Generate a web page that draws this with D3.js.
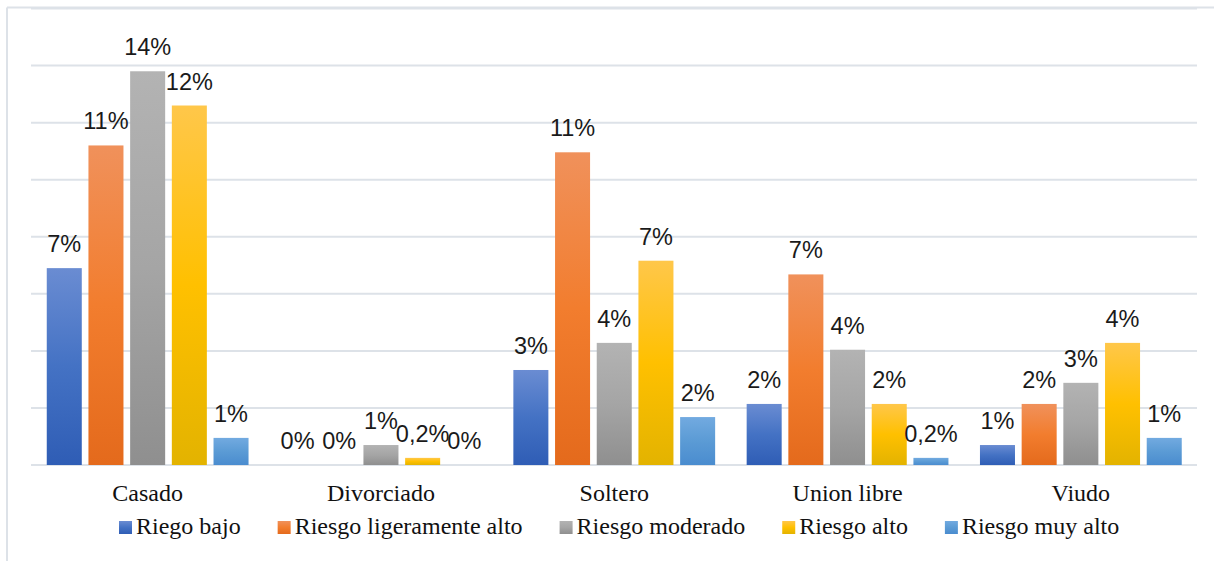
<!DOCTYPE html>
<html>
<head>
<meta charset="utf-8">
<script src="https://cdn.jsdelivr.net/npm/d3@7"></script>
<style>
  body { margin: 0; background: #fff; }
  svg { display: block; }
  .serif { font-family: "Liberation Serif", "Times New Roman", "DejaVu Serif", serif; }
  .sans { font-family: "Liberation Sans", Arial, Helvetica, sans-serif; }
</style>
</head>
<body>
<div id="chart"></div>
<script>
// categories and series
const categories = ["Casado", "Divorciado", "Soltero", "Union libre", "Viudo"];
const seriesNames = ["Riego bajo", "Riesgo ligeramente alto", "Riesgo moderado", "Riesgo alto", "Riesgo muy alto"];

// values in % (one array per series, in category order)
const riegoBajo      = [6.9, 0, 3.33, 2.14, 0.7];
const riesgoLigAlto  = [11.2, 0, 10.96, 6.68, 2.14];
const riesgoModerado = [13.8, 0.7, 4.28, 4.04, 2.88];
const riesgoAlto     = [12.6, 0.25, 7.16, 2.14, 4.28];
const riesgoMuyAlto  = [0.95, 0, 1.68, 0.25, 0.95];

// data labels as printed on the chart
const labelsBajo      = ["7%", "0%", "3%", "2%", "1%"];
const labelsLigAlto   = ["11%", "0%", "11%", "7%", "2%"];
const labelsModerado  = ["14%", "1%", "4%", "4%", "3%"];
const labelsAlto      = ["12%", "0,2%", "7%", "2%", "4%"];
const labelsMuyAlto   = ["1%", "0%", "2%", "0,2%", "1%"];

const yTicks = [0, 2, 4, 6, 8, 10, 12, 14, 16];

const seriesValues = [riegoBajo, riesgoLigAlto, riesgoModerado, riesgoAlto, riesgoMuyAlto];
const seriesLabels = [labelsBajo, labelsLigAlto, labelsModerado, labelsAlto, labelsMuyAlto];

// gradient stops: top, middle, bottom
const colors = [
  ["#6a8cd2", "#4472c4", "#2f5db5"],
  ["#f0915b", "#f27d2e", "#e46a1c"],
  ["#b3b3b3", "#a5a5a5", "#8f8f8f"],
  ["#ffc74a", "#ffc000", "#e3b300"],
  ["#72aae0", "#5b9bd5", "#4a8ccf"]
];

const W = 1214, H = 561;
const svg = d3.select("#chart").append("svg")
  .attr("width", W).attr("height", H);

const defs = svg.append("defs");
colors.forEach((c, i) => {
  const g = defs.append("linearGradient")
    .attr("id", "grad" + i)
    .attr("x1", 0).attr("y1", 0).attr("x2", 0).attr("y2", 1);
  g.append("stop").attr("offset", "0%").attr("stop-color", c[0]);
  g.append("stop").attr("offset", "50%").attr("stop-color", c[1]);
  g.append("stop").attr("offset", "100%").attr("stop-color", c[2]);
});

// outer border (only top and left visible)
svg.append("line").attr("x1", 7).attr("x2", W).attr("y1", 7.5).attr("y2", 7.5)
  .attr("stroke", "#dde2e8").attr("stroke-width", 2);
svg.append("line").attr("x1", 7).attr("x2", 7).attr("y1", 7.5).attr("y2", H)
  .attr("stroke", "#dde2e8").attr("stroke-width", 2);

const x0 = d3.scaleBand()
  .domain(categories)
  .range([31, 1197.5]);

const x1 = d3.scaleBand()
  .domain(seriesNames)
  .range([0, x0.bandwidth()])
  .paddingInner(0.16)
  .paddingOuter(0.378);

const y = d3.scaleLinear()
  .domain([0, 16])
  .range([465, 8.5]);

// gridlines
svg.append("g")
  .selectAll("line")
  .data(yTicks)
  .join("line")
  .attr("x1", 31).attr("x2", 1197)
  .attr("y1", d => y(d)).attr("y2", d => y(d))
  .attr("stroke", "#dde2e8")
  .attr("stroke-width", 2);

// bars
const groups = svg.append("g")
  .selectAll("g")
  .data(categories)
  .join("g")
  .attr("transform", d => `translate(${x0(d)},0)`);

groups.selectAll("rect")
  .data((c, ci) => seriesNames.map((s, si) => ({ s, si, v: seriesValues[si][ci] })))
  .join("rect")
  .attr("x", d => x1(d.s))
  .attr("width", x1.bandwidth())
  .attr("y", d => y(d.v))
  .attr("height", d => y(0) - y(d.v))
  .attr("fill", d => `url(#grad${d.si})`);

// data labels
groups.selectAll("text")
  .data((c, ci) => seriesNames.map((s, si) => ({ s, v: seriesValues[si][ci], t: seriesLabels[si][ci] })))
  .join("text")
  .attr("class", "sans")
  .attr("x", d => x1(d.s) + x1.bandwidth() / 2)
  .attr("y", d => y(d.v) - 16)
  .attr("text-anchor", "middle")
  .attr("font-size", 23.5)
  .attr("fill", "#1a1a1a")
  .text(d => d.t);

// category axis labels
svg.append("g")
  .selectAll("text")
  .data(categories)
  .join("text")
  .attr("class", "serif")
  .attr("x", d => x0(d) + x0.bandwidth() / 2)
  .attr("y", 501)
  .attr("text-anchor", "middle")
  .attr("font-size", 24)
  .attr("fill", "#111")
  .text(d => d);

// legend
const legend = svg.append("g");
let lx = 119;
seriesNames.forEach((name, i) => {
  legend.append("rect")
    .attr("x", lx).attr("y", 521)
    .attr("width", 13).attr("height", 13)
    .attr("fill", `url(#grad${i})`);
  const t = legend.append("text")
    .attr("class", "serif")
    .attr("x", lx + 17)
    .attr("y", 534)
    .attr("font-size", 24)
    .attr("fill", "#111")
    .text(name);
  lx += 17 + t.node().getComputedTextLength() + 37;
});
</script>
</body>
</html>
